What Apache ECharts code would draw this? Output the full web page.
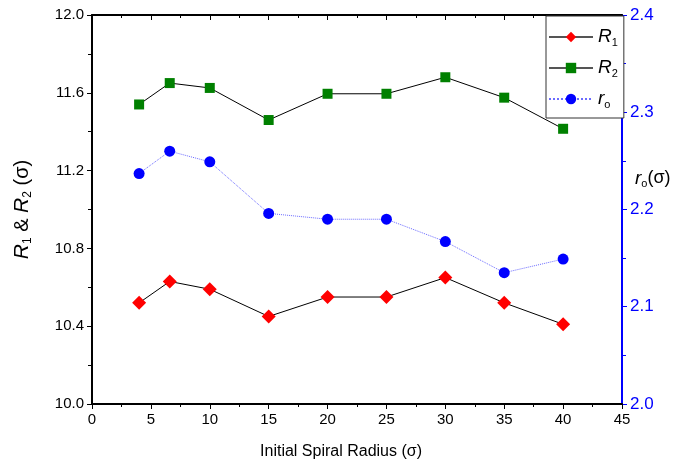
<!DOCTYPE html>
<html>
<head>
<meta charset="utf-8">
<script src="https://cdn.jsdelivr.net/npm/echarts@6/dist/echarts.min.js"></script>
<style>
  html, body { margin: 0; padding: 0; background: #fff; }
  #J-chart { width: 696px; height: 468px; }
</style>
</head>
<body>
<div id="J-chart"></div>
<script>
// 数据
const radius = [4, 6.6, 10, 15, 20, 25, 30, 35, 40];
const r1Values = [10.52, 10.63, 10.59, 10.45, 10.55, 10.55, 10.65, 10.52, 10.41];
const r2Values = [11.54, 11.65, 11.625, 11.46, 11.595, 11.595, 11.68, 11.575, 11.415];
const roValues = [2.237, 2.260, 2.249, 2.196, 2.190, 2.190, 2.167, 2.135, 2.149];

const FONT = 'Liberation Sans';
const pairs = (ys) => radius.map((x, i) => [x, ys[i]]);

const richText = {
    i: { fontStyle: 'italic', fontSize: 19, fontFamily: FONT, color: '#000' },
    s: { fontSize: 11, fontFamily: FONT, color: '#000', padding: [11, 0, 0, 0] },
    n: { fontSize: 18, fontFamily: FONT, color: '#000' }
};
const richBig = {
    i: { fontStyle: 'italic', fontSize: 21, fontFamily: FONT, color: '#000' },
    s: { fontSize: 12, fontFamily: FONT, color: '#000', padding: [12, 0, 0, 0] },
    n: { fontSize: 20, fontFamily: FONT, color: '#000' }
};

const option = {
    animation: false,
    backgroundColor: '#fff',
    textStyle: { fontFamily: FONT },
    grid: { left: 92, right: 74, top: 15, bottom: 64 },
    legend: {
        orient: 'vertical',
        left: 546,
        top: 16,
        width: 73,
        itemWidth: 44,
        itemHeight: 13,
        itemGap: 5,
        padding: [8, 6, 6, 2],
        borderColor: '#333',
        borderWidth: 1,
        backgroundColor: '#fff',
        data: [
            { name: 'R1', lineStyle: { color: '#555' } },
            { name: 'R2', lineStyle: { color: '#555' } },
            { name: 'ro' }
        ],
        formatter: function (name) {
            return '{i|' + name.charAt(0) + '}{s|' + name.charAt(1) + '}';
        },
        textStyle: { lineHeight: 26, rich: richText }
    },
    xAxis: [
        {
            type: 'value',
            min: 0,
            max: 45,
            interval: 5,
            name: 'Initial Spiral Radius (σ)',
            nameLocation: 'middle',
            nameMoveOverlap: false,
            nameGap: 40,
            nameTextStyle: { fontSize: 16, color: '#000', padding: [0, 32, 0, 0] },
            axisLine: { onZero: false, lineStyle: { color: '#000', width: 2 } },
            axisTick: { length: 5, lineStyle: { color: '#000' } },
            minorTick: { show: true, splitNumber: 2, length: 3, lineStyle: { color: '#000' } },
            axisLabel: { fontSize: 15, color: '#000', margin: 8 },
            splitLine: { show: false }
        },
        {
            type: 'value',
            position: 'top',
            min: 0,
            max: 45,
            interval: 5,
            axisLine: { onZero: false, lineStyle: { color: '#000', width: 2 } },
            axisTick: { inside: true, length: 5, lineStyle: { color: '#000' } },
            minorTick: { show: true, splitNumber: 2, length: 3, lineStyle: { color: '#000' } },
            axisLabel: { show: false },
            splitLine: { show: false }
        }
    ],
    yAxis: [
        {
            type: 'value',
            min: 10,
            max: 12,
            interval: 0.4,
            name: '{i|R}{s|1}{n| & }{i|R}{s|2}{n| (σ)}',
            nameLocation: 'middle',
            nameRotate: 90,
            nameMoveOverlap: false,
            nameGap: 58,
            nameTextStyle: { rich: richBig },
            axisLine: { show: true, onZero: false, lineStyle: { color: '#000', width: 2 } },
            axisTick: { length: 5, lineStyle: { color: '#000' } },
            minorTick: { show: true, splitNumber: 2, length: 4, lineStyle: { color: '#000' } },
            axisLabel: {
                fontSize: 15,
                color: '#000',
                margin: 8,
                formatter: (v) => v.toFixed(1)
            },
            splitLine: { show: false }
        },
        {
            type: 'value',
            position: 'right',
            min: 2.0,
            max: 2.4,
            interval: 0.1,
            name: '{i|r}{s|o}{n|(σ)}',
            nameLocation: 'middle',
            nameRotate: 0,
            nameMoveOverlap: false,
            nameGap: 13,
            nameTextStyle: { rich: richText, align: 'left', padding: [0, 0, 62, 0] },
            axisLine: { show: true, onZero: false, lineStyle: { color: '#0000ff', width: 2 } },
            axisTick: { length: 5, lineStyle: { color: '#0000ff' } },
            minorTick: { show: true, splitNumber: 2, length: 4, lineStyle: { color: '#0000ff' } },
            axisLabel: {
                fontSize: 17,
                color: '#0000ff',
                margin: 8,
                formatter: (v) => v.toFixed(1)
            },
            splitLine: { show: false }
        }
    ],
    series: [
        {
            name: 'R1',
            type: 'line',
            data: pairs(r1Values),
            symbol: 'diamond',
            symbolSize: 14,
            itemStyle: { color: '#ff0000' },
            lineStyle: { color: '#000', width: 1 },
            z: 3
        },
        {
            name: 'R2',
            type: 'line',
            data: pairs(r2Values),
            symbol: 'rect',
            symbolSize: 10,
            itemStyle: { color: '#008000' },
            lineStyle: { color: '#000', width: 1 },
            z: 3
        },
        {
            name: 'ro',
            type: 'line',
            yAxisIndex: 1,
            data: pairs(roValues),
            symbol: 'circle',
            symbolSize: 11,
            itemStyle: { color: '#0000ff' },
            lineStyle: { color: '#6b6bff', width: 1, type: 'dotted' },
            z: 3
        }
    ]
};

const chart = echarts.init(document.getElementById('J-chart'));
chart.setOption(option);
</script>
</body>
</html>
